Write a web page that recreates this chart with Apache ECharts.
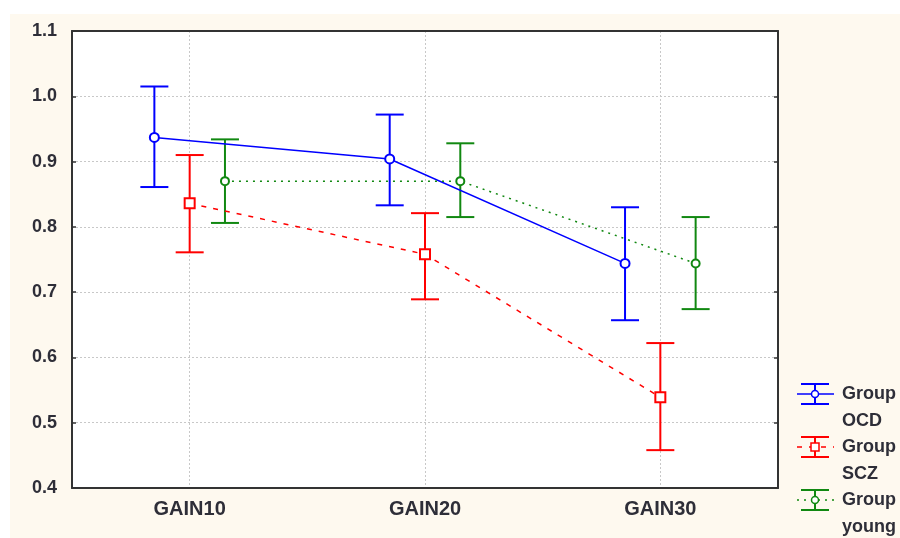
<!DOCTYPE html>
<html><head><meta charset="utf-8">
<script src="https://cdn.jsdelivr.net/npm/echarts@6/dist/echarts.min.js"></script>
<style>html,body{margin:0;padding:0;background:#fff}#c{width:900px;height:538px}</style>
</head><body><div id="c"></div>
<script>
const categories = ['GAIN10', 'GAIN20', 'GAIN30'];
const yTicks = [0.4, 0.5, 0.6, 0.7, 0.8, 0.9, 1.0, 1.1];
const groupNames = ['Group\nOCD', 'Group\nSCZ', 'Group\nyoung'];
const ocdMean = [0.937, 0.904, 0.744];
const ocdLow  = [0.861, 0.833, 0.657];
const ocdHigh = [1.015, 0.972, 0.830];
const sczMean = [0.836, 0.758, 0.539];
const sczLow  = [0.761, 0.689, 0.458];
const sczHigh = [0.910, 0.821, 0.622];
const youngMean = [0.870, 0.870, 0.744];
const youngLow  = [0.806, 0.815, 0.674];
const youngHigh = [0.934, 0.928, 0.815];

const FONT = 'Liberation Sans, Arial, sans-serif';
const FS = 18;
const TXT = '#2e2e38';
const groups = [
  {mean: ocdMean, low: ocdLow, high: ocdHigh, color: '#0000ff', off: -0.15, dash: 'solid', symbol: 'emptyCircle', size: 9},
  {mean: sczMean, low: sczLow, high: sczHigh, color: '#ff0000', off: 0, dash: [5, 7], symbol: 'emptyRect', size: 10},
  {mean: youngMean, low: youngLow, high: youngHigh, color: '#118811', off: 0.15, dash: [2, 5], symbol: 'emptyCircle', size: 8}
];

const series = [];
groups.forEach((g, gi) => {
  series.push({
    type: 'custom', xAxisIndex: 2, yAxisIndex: 0, z: 3, silent: true,
    data: categories.map((c, i) => [i + g.off, g.low[i], g.high[i]]),
    encode: {x: 0, y: [1, 2]},
    renderItem: function (params, api) {
      const x = api.value(0);
      const pLo = api.coord([x, api.value(1)]);
      const pHi = api.coord([x, api.value(2)]);
      const hw = 14;
      const st = {stroke: g.color, lineWidth: 2};
      return {type: 'group', children: [
        {type: 'line', shape: {x1: pLo[0], y1: pLo[1], x2: pHi[0], y2: pHi[1]}, style: st},
        {type: 'line', shape: {x1: pLo[0] - hw, y1: pLo[1], x2: pLo[0] + hw, y2: pLo[1]}, style: st},
        {type: 'line', shape: {x1: pHi[0] - hw, y1: pHi[1], x2: pHi[0] + hw, y2: pHi[1]}, style: st}
      ]};
    }
  });
  series.push({
    name: groupNames[gi], type: 'line', xAxisIndex: 2, yAxisIndex: 0, z: 4,
    data: categories.map((c, i) => [i + g.off, g.mean[i]]),
    symbol: g.symbol, symbolSize: g.size, showSymbol: true,
    lineStyle: {color: g.color, width: 1.5, type: g.dash},
    itemStyle: {color: g.color, borderWidth: 1.5},
    animation: false
  });
});

// Legend drawn as graphic elements
const legendChildren = [];
groups.forEach((g, gi) => {
  const cy = 394 + gi * 53;
  const cx = 815;
  const st = {stroke: g.color, lineWidth: 2};
  const dashSt = {stroke: g.color, lineWidth: 1.5, lineDash: g.dash === 'solid' ? null : g.dash};
  legendChildren.push(
    {type: 'line', shape: {x1: 797, y1: cy, x2: 834, y2: cy}, style: dashSt},
    {type: 'line', shape: {x1: cx - 14, y1: cy - 10, x2: cx + 14, y2: cy - 10}, style: st},
    {type: 'line', shape: {x1: cx - 14, y1: cy + 10, x2: cx + 14, y2: cy + 10}, style: st},
    {type: 'line', shape: {x1: cx, y1: cy - 10, x2: cx, y2: cy + 10}, style: st},
    g.symbol === 'emptyRect'
      ? {type: 'rect', shape: {x: cx - 4, y: cy - 4, width: 8, height: 8}, style: {fill: '#fff', stroke: g.color, lineWidth: 1.5}}
      : {type: 'circle', shape: {cx: cx, cy: cy, r: 3.5}, style: {fill: '#fff', stroke: g.color, lineWidth: 1.5}},
    {type: 'text', x: 842, y: cy - 13.5, style: {text: groupNames[gi], fontSize: FS, fontWeight: 'bold', fontFamily: FONT, fill: TXT, lineHeight: 27, verticalAlign: 'top'}}
  );
});

const chart = echarts.init(document.getElementById('c'), null, {renderer: 'canvas'});
chart.setOption({
  animation: false,
  backgroundColor: '#fff',
  textStyle: {fontFamily: FONT},
  grid: {left: 72, right: 122, top: 31, bottom: 50, show: true, backgroundColor: '#fff', borderWidth: 0},
  xAxis: [
    {type: 'category', data: categories, position: 'bottom', boundaryGap: true,
      axisLine: {onZero: false, lineStyle: {color: '#333', width: 2}},
      axisTick: {inside: true, alignWithLabel: true, length: 4, lineStyle: {color: '#333', width: 1.5}},
      axisLabel: {color: TXT, fontSize: 20, fontWeight: 'bold', margin: 11, fontFamily: FONT},
      splitLine: {show: true, alignWithLabel: true, lineStyle: {color: '#c8c8c8', type: [2, 2], width: 1}}},
    {type: 'category', data: categories, position: 'top', boundaryGap: true,
      axisLine: {onZero: false, lineStyle: {color: '#333', width: 2}},
      axisTick: {inside: true, alignWithLabel: true, length: 4, lineStyle: {color: '#333', width: 1.5}},
      axisLabel: {show: false}, splitLine: {show: false}},
    {type: 'value', min: -0.5, max: 2.5, show: false, splitLine: {show: false}}
  ],
  yAxis: [
    {type: 'value', min: 0.4, max: 1.1, interval: 0.1, position: 'left',
      axisLine: {show: true, onZero: false, lineStyle: {color: '#333', width: 2}},
      axisTick: {show: true, inside: true, length: 4, lineStyle: {color: '#333', width: 1.5}},
      axisLabel: {color: TXT, fontSize: FS, fontWeight: 'bold', margin: 15, fontFamily: FONT,
        formatter: v => yTicks.find(t => Math.abs(t - v) < 1e-6).toFixed(1)},
      splitLine: {show: true, lineStyle: {color: '#c8c8c8', type: [2, 2], width: 1}}},
    {type: 'value', min: 0.4, max: 1.1, interval: 0.1, position: 'right',
      axisLine: {show: true, onZero: false, lineStyle: {color: '#333', width: 2}},
      axisTick: {show: true, inside: true, length: 4, lineStyle: {color: '#333', width: 1.5}},
      axisLabel: {show: false}, splitLine: {show: false}}
  ],
  graphic: [
    {type: 'rect', z: -10, silent: true, shape: {x: 10, y: 14, width: 890, height: 524}, style: {fill: '#fef9ef'}},
    {type: 'group', children: legendChildren}
  ],
  series: series
});
</script></body></html>
